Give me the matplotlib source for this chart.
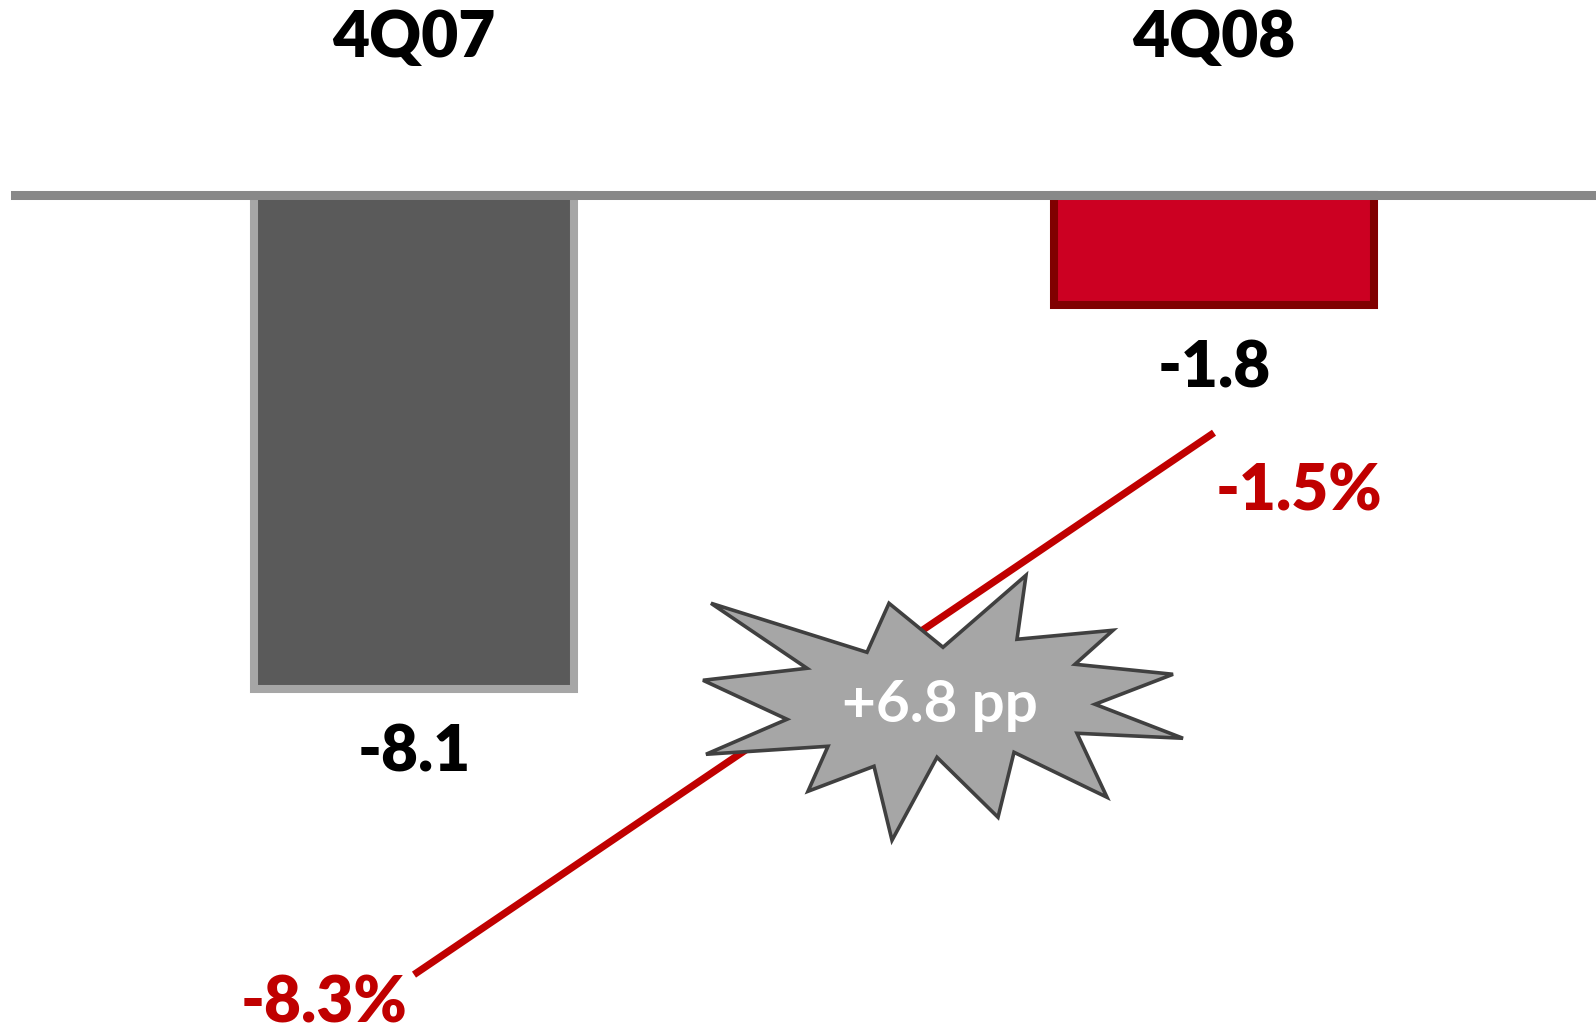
import matplotlib
matplotlib.use('Agg')
import matplotlib.pyplot as plt
import matplotlib.transforms as mtransforms
from matplotlib.patches import Polygon

plt.rcParams['font.family'] = ['Lato', 'DejaVu Sans']

# 数据
quarters = ['4Q07', '4Q08']
values = [-8.1, -1.8]          # 柱状图数值
pct = [-8.3, -1.5]             # 折线 (%)
bar_fill = ['#5A5A5A', '#CC0022']
bar_edge = ['#A6A6A6', '#800000']
red = '#C00000'

fig = plt.figure(figsize=(15.96, 10.36), dpi=100)
ax = fig.add_axes([0, 0, 1, 1])
ax2 = ax.twinx()
for a in (ax, ax2):
    a.set_axis_off()

x = list(range(len(quarters)))
ax.set_xlim(-0.5175, 1.4775)
ax.set_ylim(-13.79, 3.2)
ax2.set_ylim(-9.07, 3.93)

# 柱子
ax.bar(x, values, width=0.4, color=bar_fill, edgecolor=bar_edge,
       linewidth=5.8, zorder=2)
ax.axhline(0, xmin=15 / 1596, xmax=1, color='#888888', linewidth=6.5, zorder=3)

for xi, q, v in zip(x, quarters, values):
    ax.text(xi, 0.963, q, transform=ax.get_xaxis_transform(), ha='center',
            va='center', fontsize=46, fontweight='heavy', color='black')
    ax.annotate('%.1f' % v, (xi, v), xytext=(0, -46), textcoords='offset points',
                ha='center', va='center', fontsize=46, fontweight='heavy',
                color='black')

# 折线
ax2.plot(x, pct, color=red, linewidth=5.2, solid_capstyle='butt', zorder=2)
ax2.annotate('%.1f%%' % pct[0], (x[0], pct[0]), xytext=(-65, -21),
             textcoords='offset points', ha='center', va='center',
             fontsize=46, fontweight='heavy', color=red)
ax2.annotate('%.1f%%' % pct[1], (x[1], pct[1]), xytext=(61, -43),
             textcoords='offset points', ha='center', va='center',
             fontsize=46, fontweight='heavy', color=red)

# 爆炸形标注
cx, cy = 0.6575, -4.92
star = [(-229, 102), (-73, 53), (-51, 102), (3, 58), (86, 130), (77, 66),
        (173, 75), (135, 41), (233, 31), (155, 1), (243, -33), (137, -28),
        (167, -92), (74, -47), (58, -112), (-3, -52), (-48, -135), (-66, -61),
        (-132, -86), (-112, -41), (-234, -49), (-153, -14), (-237, 25),
        (-133, 37)]
trans = mtransforms.Affine2D().scale(fig.dpi / 100) + \
    mtransforms.ScaledTranslation(cx, cy, ax2.transData)
ax2.add_patch(Polygon(star, closed=True, facecolor='#A6A6A6', edgecolor='#404040',
                      linewidth=2.6, joinstyle='miter', transform=trans, zorder=4))
ax2.text(cx, cy, '+%.1f pp' % (pct[1] - pct[0]), ha='center', va='center',
         fontsize=42, fontweight='bold', color='white', zorder=5)

fig.savefig('out.png', dpi=100)
